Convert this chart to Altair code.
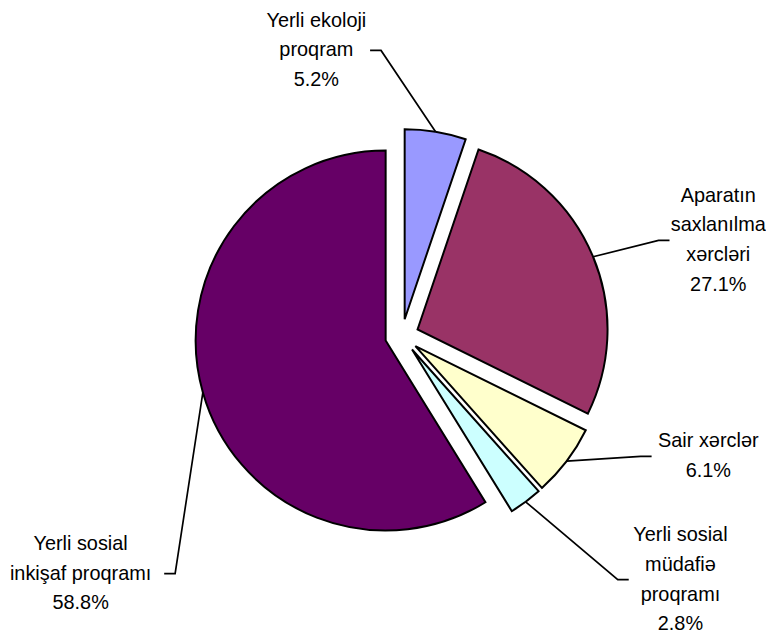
import math
import altair as alt
import pandas as pd

# ---- data ----
categories = [
    "Yerli ekoloji proqram",
    "Aparatın saxlanılma xərcləri",
    "Sair xərclər",
    "Yerli sosial müdafiə proqramı",
    "Yerli sosial inkişaf proqramı",
]
values = [5.2, 27.1, 6.1, 2.8, 58.8]
label_text = [
    "Yerli ekoloji\nproqram",
    "Aparatın\nsaxlanılma\nxərcləri",
    "Sair xərclər",
    "Yerli sosial\nmüdafiə\nproqramı",
    "Yerli sosial\ninkişaf proqramı",
]
colors = ["#9999FF", "#993366", "#FFFFCC", "#CCFFFF", "#660066"]

# ---- layout (pixels) ----
W, H = 758, 620
R_PX = 191            # pie radius
CX, CY = 396, 328     # pie centre inside the plot area
EXPLODE_PX = 17
label_dx = [-86, 318, 308, 280, -323]   # label centre offset from pie centre
label_dy = [287, 96, -121, -245, -239]  # (upwards positive)
hook_dx = [54, -49, -57, -52, 84]       # leader end relative to label centre
ELBOW_PX = 11
LINE_H = 30

u = 1.0 / R_PX
total = sum(values)
pie_rows, lead_rows, lab_rows = [], [], []
cum = 0.0
for i, (c, v) in enumerate(zip(categories, values)):
    a0 = 2 * math.pi * cum / total
    a1 = 2 * math.pi * (cum + v) / total
    m = (a0 + a1) / 2
    cum += v
    ex = EXPLODE_PX * u
    ox, oy = ex * math.sin(m), ex * math.cos(m)
    pie_rows.append(dict(category=c, value=v, a0=a0, a1=a1, ox=ox, oy=oy, order=i))
    # leader line: slice edge -> elbow -> label hook
    px, py = (1 + ex) * math.sin(m), (1 + ex) * math.cos(m)
    hx = (label_dx[i] + hook_dx[i]) * u
    hy = label_dy[i] * u
    side = 1 if hook_dx[i] > 0 else -1
    exx = hx + side * ELBOW_PX * u
    lead_rows += [
        dict(category=c, seq=0, x=px, y=py),
        dict(category=c, seq=1, x=exx, y=hy),
        dict(category=c, seq=2, x=hx, y=hy),
    ]
    txt = f"{label_text[i]}\n{v:.1f}%"
    n_lines = txt.count("\n") + 1
    # text is anchored on its first line: shift up so the block is centred
    lab_rows.append(dict(category=c, text=txt,
                         x=label_dx[i] * u,
                         y=(label_dy[i] + (n_lines - 1) * LINE_H / 2) * u))

pie = pd.DataFrame(pie_rows)
lead = pd.DataFrame(lead_rows)
lab = pd.DataFrame(lab_rows)

xs = alt.Scale(domain=[-CX * u, (W - CX) * u], nice=False, zero=False)
ys = alt.Scale(domain=[-(H - CY) * u, CY * u], nice=False, zero=False)

arcs = alt.Chart(pie).mark_arc(
    outerRadius=R_PX, stroke="black", strokeWidth=2
).encode(
    x=alt.X("ox:Q", scale=xs, axis=None),
    y=alt.Y("oy:Q", scale=ys, axis=None),
    theta=alt.Theta("a0:Q", scale=None),
    theta2="a1:Q",
    color=alt.Color("category:N", scale=alt.Scale(domain=categories, range=colors), legend=None),
)

leaders = alt.Chart(lead).mark_line(color="black", strokeWidth=1.7).encode(
    x=alt.X("x:Q", scale=xs, axis=None),
    y=alt.Y("y:Q", scale=ys, axis=None),
    detail="category:N",
    order="seq:Q",
)

labels = alt.Chart(lab).mark_text(
    font="Liberation Sans", fontSize=20, lineBreak="\n", lineHeight=LINE_H,
    align="center", baseline="middle", color="black"
).encode(
    x=alt.X("x:Q", scale=xs, axis=None),
    y=alt.Y("y:Q", scale=ys, axis=None),
    text="text:N",
)

chart = alt.layer(arcs, leaders, labels).properties(
    width=W, height=H, padding=0, background="white"
).configure_view(stroke=None)

chart.save("out.html", embed_options={"renderer": "svg", "actions": False})
